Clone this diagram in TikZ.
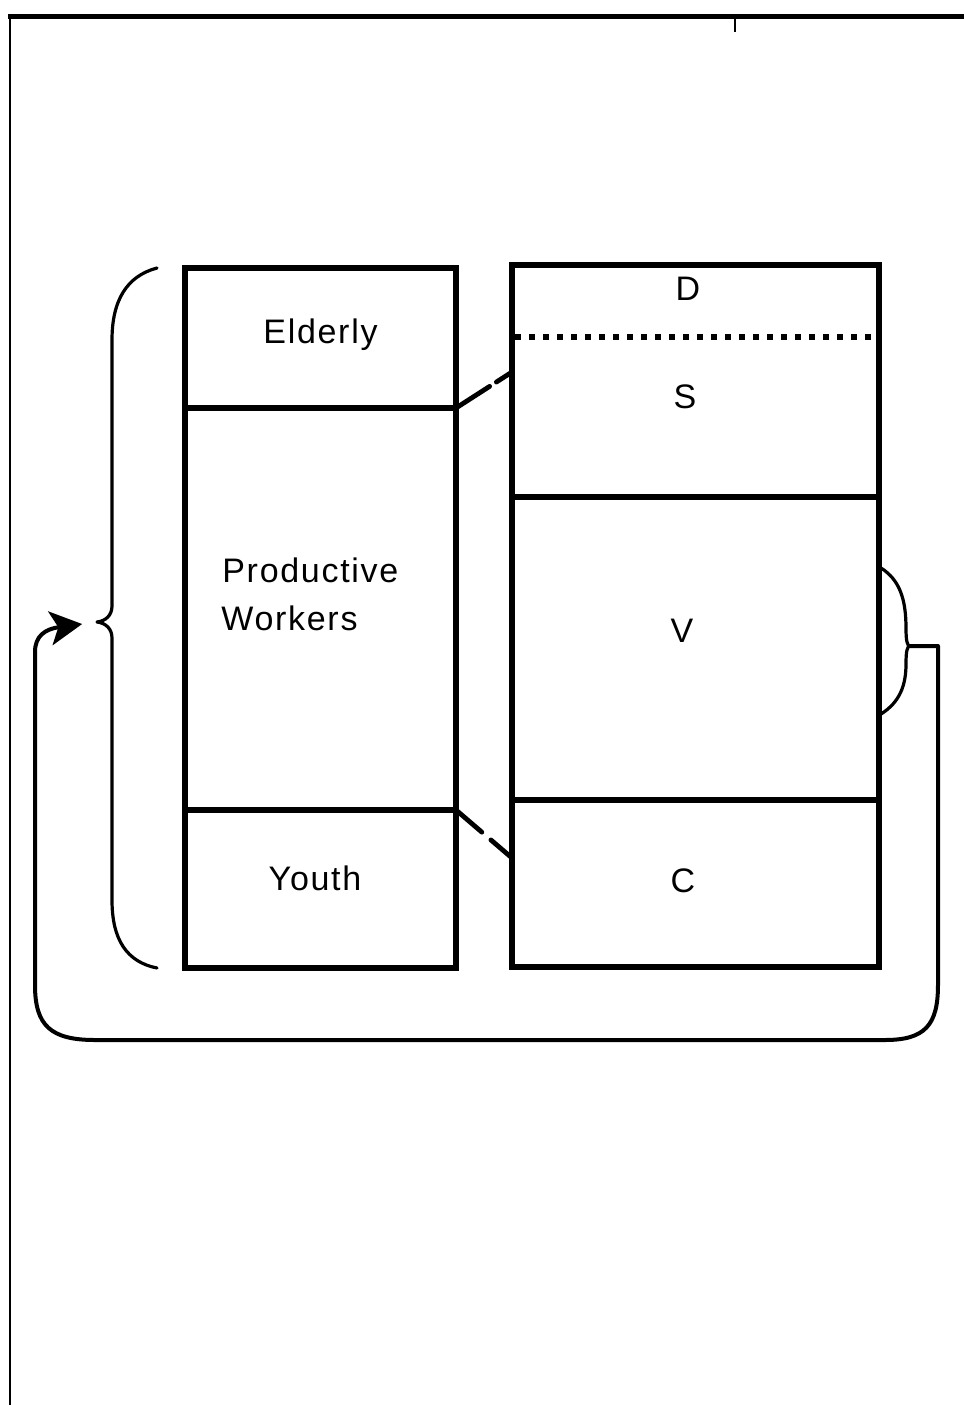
\documentclass[tikz,border=0pt]{standalone}
\usepackage{fontspec}
\newfontfamily\lab{Liberation Sans}[LetterSpace=5]
\usetikzlibrary{arrows.meta}
\begin{document}
\begin{tikzpicture}[x=0.5pt,y=-0.5pt,
  cell/.style={draw, line width=3.3pt, inner sep=0pt, outer sep=0pt},
  lbl/.style={font=\lab\fontsize{17}{20}\selectfont, inner sep=0pt},
  brace/.style={line width=1.6pt, line cap=round, line join=round},
  dashcon/.style={line width=2.4pt, line cap=round},
  loopcon/.style={line width=2pt, line join=round},
  dotline/.style={line width=2.8pt, dash pattern=on 2.8pt off 4.2pt}]
\useasboundingbox (0,0) rectangle (964,1405);
% frame
\draw[line width=2.5pt] (8,16) -- (964,16);
\draw[line width=1.4pt] (10,15) -- (10,1405);
\draw[line width=1pt] (735,16) -- (735,32);
% left column
\node[cell, minimum width=135.5pt, minimum height=70pt] (elderly) at (320.5,338) {};
\node[cell, minimum width=135.5pt, minimum height=201pt] (workers) at (320.5,609) {};
\node[cell, minimum width=135.5pt, minimum height=79pt] (youth) at (320.5,889) {};
% right column
\node[cell, minimum width=183.5pt, minimum height=116pt] (ds) at (695.5,381) {};
\node[cell, minimum width=183.5pt, minimum height=151.5pt] (vcell) at (695.5,648.5) {};
\node[cell, minimum width=183.5pt, minimum height=83.5pt] (ccell) at (695.5,883.5) {};
\coordinate (dl) at (515,337);
\coordinate (dr) at (878,337);
\draw[dotline] (dl) -- (dr);
% labels
\node[lbl, anchor=base] (telderly) at (320.5,343) {Elderly};
\node[lbl, anchor=base west] (tprod) at (222,582) {Productive};
\node[lbl, anchor=base west] (twork) at (221,630) {Workers};
\node[lbl, anchor=base] (tyouth) at (315,890) {Youth};
\node[lbl, anchor=base] (td) at (688,300) {D};
\node[lbl, anchor=base] (ts) at (685,408) {S};
\node[lbl, anchor=base] (tv) at (682,642) {V};
\node[lbl, anchor=base] (tc) at (683,892) {C};
% dashed connectors
\coordinate (uend) at (512,372);
\coordinate (lend) at (512,858);
\draw[dashcon, dash pattern=on 20pt off 4pt] (elderly.south east) -- (uend);
\draw[dashcon, dash pattern=on 17pt off 6pt] (youth.north east) -- (lend);
% left brace
\coordinate (ltip) at (97,622);
\draw[brace] (157,268) .. controls (127,276) and (112,300) .. (112,340) -- (112,606)
  .. controls (112,615) and (106,621) .. (ltip)
  .. controls (106,623) and (112,629) .. (112,638) -- (112,900)
  .. controls (112,940) and (127,962) .. (157,968);
% right brace
\coordinate (rtip) at (910,646);
\draw[brace] (881,568) .. controls (900,580) and (906,600) .. (906,628)
  .. controls (906,640) and (907,646) .. (rtip);
\draw[brace] (881,714) .. controls (900,702) and (906,685) .. (906,664)
  .. controls (906,652) and (907,646) .. (rtip);
% feedback loop
\draw[loopcon, -{Stealth[length=16pt,width=17pt,inset=4pt]}, shorten >=7.5pt]
  (rtip) -- (938,646) -- (938,985) .. controls (938,1025) and (925,1040) .. (885,1040)
  -- (95,1040) .. controls (50,1040) and (35,1025) .. (35,985)
  -- (35,652) .. controls (35,636) and (45,629) .. (ltip);
\end{tikzpicture}
\end{document}
